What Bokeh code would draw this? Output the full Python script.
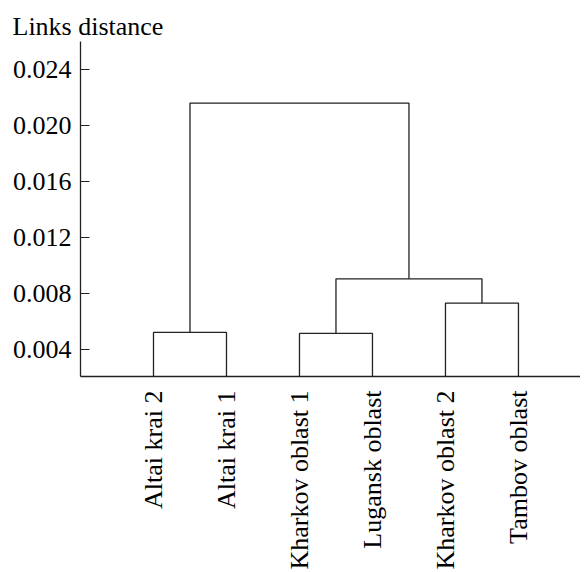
import math
from bokeh.plotting import figure
from bokeh.models import FixedTicker, NumeralTickFormatter
from bokeh.embed import file_html
from bokeh.resources import INLINE

# ---- data ----
leaves = ["Altai krai 2", "Altai krai 1", "Kharkov oblast 1",
          "Lugansk oblast", "Kharkov oblast 2", "Tambov oblast"]
# merges: (left cluster id, right cluster id, link distance); ids 0-5 leaves, 6+ new clusters
merge_left = [0, 2, 4, 7, 6]
merge_right = [1, 3, 5, 8, 9]
merge_height = [0.00520, 0.00513, 0.00730, 0.00903, 0.0216]
y_ticks = [0.004, 0.008, 0.012, 0.016, 0.020, 0.024]
y_title = "Links distance"

FONT = "Liberation Serif"
INK = "#222222"

p = figure(width=580, height=572, x_range=(0, 6.85), y_range=(0.00205, 0.026),
           output_backend="svg", toolbar_location=None,
           min_border_left=80, min_border_right=0, min_border_top=41,
           min_border_bottom=196)
p.outline_line_color = None
p.grid.visible = False
p.background_fill_color = "white"

# title used as the y-axis caption in the top-left corner
p.title.text = y_title
p.title.align = "left"
p.title.offset = -68
p.title.standoff = 2
p.title.text_font = FONT
p.title.text_font_size = "26px"
p.title.text_font_style = "normal"
p.title.text_color = "black"

# build dendrogram coordinates from the merge table
pos = {i: (i + 1.0, 0.0) for i in range(len(leaves))}
xs, ys = [], []
for k, (a, b, h) in enumerate(zip(merge_left, merge_right, merge_height)):
    xa, ha = pos[a]
    xb, hb = pos[b]
    xs.append([xa, xa, xb, xb])
    ys.append([ha, h, h, hb])
    pos[len(leaves) + k] = ((xa + xb) / 2.0, h)
p.multi_line(xs, ys, line_color=INK, line_width=1.3)

# axes
ya = p.yaxis[0]
ya.ticker = FixedTicker(ticks=y_ticks)
ya.formatter = NumeralTickFormatter(format="0.000")
ya.major_tick_in = 9
ya.major_tick_out = 0
ya.minor_tick_line_color = None
ya.major_label_text_font = FONT
ya.major_label_text_font_size = "26px"
ya.major_label_text_color = "black"
ya.major_label_standoff = 9
ya.axis_line_color = INK
ya.major_tick_line_color = INK
ya.axis_line_width = 1.3

xa_ = p.xaxis[0]
xa_.ticker = FixedTicker(ticks=[i + 1 for i in range(len(leaves))])
xa_.major_label_overrides = {i + 1: name for i, name in enumerate(leaves)}
xa_.major_label_orientation = math.pi / 2
xa_.major_tick_line_color = None
xa_.minor_tick_line_color = None
xa_.major_tick_out = 0
xa_.major_tick_in = 0
xa_.major_label_standoff = 14
xa_.major_label_text_font = FONT
xa_.major_label_text_font_size = "26px"
xa_.major_label_text_color = "black"
xa_.axis_line_color = INK
xa_.axis_line_width = 1.3

open("out.html", "w").write(file_html(p, INLINE))
